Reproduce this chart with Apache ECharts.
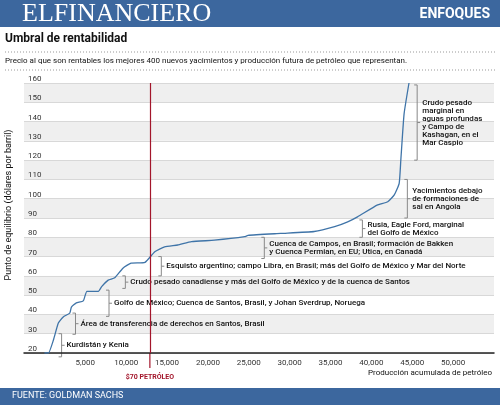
<!DOCTYPE html>
<html><head><meta charset="utf-8">
<script src="https://cdn.jsdelivr.net/npm/echarts@6/dist/echarts.min.js"></script>
<style>html,body{margin:0;padding:0;background:#fff}#c{width:500px;height:405px}</style>
</head><body><div id="c"></div>
<script>
const produccion = [0,490,1100,1700,2300,3100,3300,3900,4750,5200,6600,7000,7800,8600,9600,10600,12300,13500,14700,16300,18000,20800,24500,24900,28900,33000,35500,37100,38300,40700,42000,42800,43400,43600,44000,44600];
const precio =     [20,20,26.7,35.5,38.7,40.7,43.8,46,47,52,52,54.4,57.8,59,64,66.6,67,72.5,75,76,77.7,78.5,80.3,81,82,83,85.5,88,90.6,96.7,98.4,102,108,120,144,160];
const xTicks = [5000,10000,15000,20000,25000,30000,35000,40000,45000,50000];
const petroleo70 = 12900;
// annotations: [x, yTop, yBottom, lines]
const anotaciones = [
  [2100, 30, 18, ["Kurdistán y Kenia"]],
  [3800, 40.7, 29.7, ["Área de transferencia de derechos en Santos, Brasil"]],
  [7900, 52.6, 39, ["Golfo de México; Cuenca de Santos, Brasil, y Johan Sverdrup, Noruega"]],
  [9900, 60, 53.5, ["Crudo pesado canadiense y más del Golfo de México y de la cuenca de Santos"]],
  [14300, 70, 60, ["Esquisto argentino; campo Libra, en Brasil; más del Golfo de México y Mar del Norte"]],
  [26900, 80, 69, ["Cuenca de Campos, en Brasil; formación de Bakken","y Cuenca Permian, en EU; Utica, en Canadá"]],
  [38900, 89, 80, ["Rusia, Eagle Ford, marginal","del Golfo de México"]],
  [44400, 110, 90, ["Yacimientos debajo","de formaciones de","sal en Angola"]],
  [45600, 159, 120, ["Crudo pesado","marginal en","aguas profundas","y Campo de","Kashagan, en el","Mar Caspio"]]
];
const F = "'Roboto',sans-serif";
const chart = echarts.init(document.getElementById('c'));
const data = produccion.map((x,i)=>[x,precio[i]]);
const opt = {
  animation:false,
  grid:{left:24,right:6,top:83,bottom:52},
  xAxis:{type:'value',min:-2500,max:55000,interval:2500,
    axisLine:{show:true,lineStyle:{color:'#222',width:1.5}},axisTick:{show:false},splitLine:{show:false},
    axisLabel:{fontFamily:F,fontSize:8,color:'#333',margin:6,formatter:v=>xTicks.includes(v)?v.toLocaleString('en-US'):''}},
  yAxis:{type:'value',min:20,max:160,interval:10,
    axisLine:{show:false},axisTick:{show:false},
    splitLine:{lineStyle:{color:'#d8d8d8'}},
    splitArea:{show:true,areaStyle:{color:['#ffffff','#efefef']}},
    axisLabel:{inside:true,fontFamily:F,fontSize:8,color:'#333',verticalAlign:'bottom',margin:4,formatter:v=>v}},
  series:[{type:'line',data:data,showSymbol:false,smooth:0.15,lineStyle:{color:'#3f74a8',width:1.3},
    markLine:{symbol:'none',silent:true,label:{show:false},lineStyle:{color:'#a3162b',width:1.2,type:'solid'},data:[{xAxis:petroleo70}]}
  }]
};
chart.setOption(opt);
const g = [
  {type:'rect',shape:{x:0,y:0,width:500,height:27},style:{fill:'#3c679e'}},
  {type:'text',left:22,top:1,style:{text:'ELFINANCIERO',font:'26px "Liberation Serif", serif',fill:'#fff'}},
  {type:'text',right:10,top:7,style:{text:'ENFOQUES',font:'bold 14px '+F,fill:'#fff'}},
  {type:'text',left:5,top:33,style:{text:'Umbral de rentabilidad',font:'bold 12px '+F,fill:'#111'}},
  {type:'line',shape:{x1:5,y1:52,x2:495,y2:52},style:{stroke:'#999',lineDash:[1,2]}},
  {type:'text',left:5,top:57,style:{text:'Precio al que son rentables los mejores 400 nuevos yacimientos y producción futura de petróleo que representan.',font:'8px '+F,fill:'#111'}},
  {type:'line',shape:{x1:5,y1:70,x2:495,y2:70},style:{stroke:'#999',lineDash:[1,2]}},
  {type:'text',x:9,y:205,rotation:Math.PI/2,style:{text:'Punto de equilibrio (dólares por barril)',font:'9px '+F,fill:'#111',align:'center',verticalAlign:'middle'}},
  {type:'text',right:8,top:369,style:{text:'Producción acumulada de petróleo',font:'8px '+F,fill:'#111'}},
  {type:'rect',shape:{x:0,y:388,width:500,height:17},style:{fill:'#3c679e'}},
  {type:'text',left:12,top:391,style:{text:'FUENTE: GOLDMAN SACHS',font:'9px '+F,fill:'#fff'}}
];
const pv = chart.convertToPixel({gridIndex:0},[petroleo70,20]);
g.push({type:'text',x:pv[0],y:374,style:{text:'$70 PETRÓLEO',font:'bold 7px '+F,fill:'#a3162b',align:'center'}});
g.push({type:'line',shape:{x1:pv[0],y1:353,x2:pv[0],y2:368},style:{stroke:'#a3162b',lineWidth:1.2}});
anotaciones.forEach(a=>{
  const p1 = chart.convertToPixel({gridIndex:0},[a[0],a[1]]);
  const p2 = chart.convertToPixel({gridIndex:0},[a[0],a[2]]);
  const x=p1[0], ym=(p1[1]+p2[1])/2;
  g.push({type:'polyline',shape:{points:[[x-3,p1[1]],[x,p1[1]],[x,p2[1]],[x-3,p2[1]]]},style:{stroke:'#888',fill:null,lineWidth:1}});
  g.push({type:'line',shape:{x1:x,y1:ym,x2:x+3,y2:ym},style:{stroke:'#888',lineWidth:1}});
  g.push({type:'text',x:x+5,y:ym,style:{text:a[3].join('\n'),font:'500 8px '+F,fill:'#111',verticalAlign:'middle',lineHeight:a[3].length>1?8:9}});
});
chart.setOption({graphic:g});
</script></body></html>
